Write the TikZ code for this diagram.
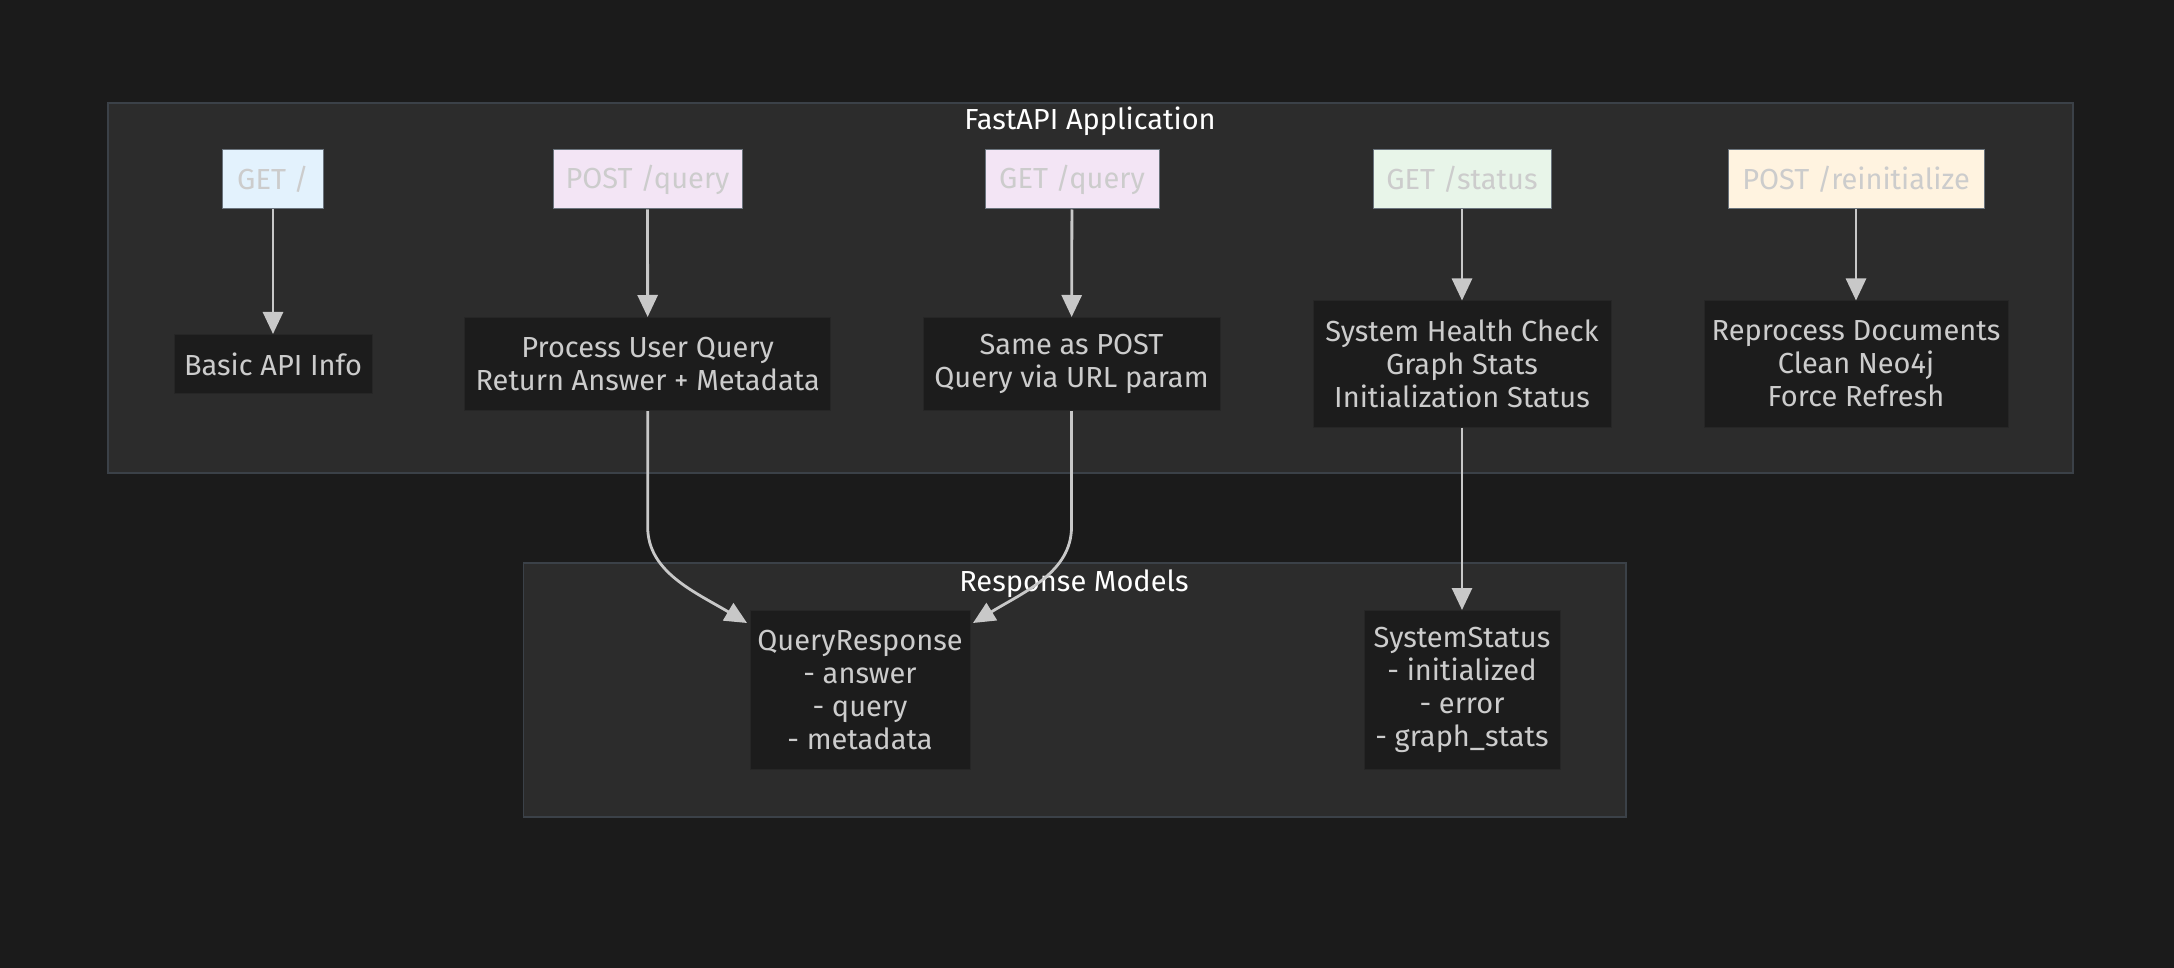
\documentclass[tikz,border=0pt]{standalone}
\usepackage{fontspec}
\setmainfont{Fira Sans}
\usetikzlibrary{arrows.meta}
\definecolor{bg}{HTML}{1B1B1B}
\definecolor{clfill}{HTML}{2C2C2C}
\definecolor{clborder}{HTML}{3B4148}
\definecolor{darkfill}{HTML}{1C1C1C}
\definecolor{darkborder}{HTML}{262626}
\definecolor{nodetext}{HTML}{CCCCCC}
\definecolor{lbborder}{HTML}{6A737C}
\definecolor{edgecol}{HTML}{C8C8C8}
\definecolor{cblue}{HTML}{E3F2FD}
\definecolor{cpurple}{HTML}{F3E5F5}
\definecolor{cgreen}{HTML}{E8F5E9}
\definecolor{corange}{HTML}{FFF3E0}
\begin{document}
\begin{tikzpicture}[x=1pt,y=-1pt,
  basefont/.style={font=\fontsize{29}{33}\selectfont},
  cluster/.style={draw=clborder, fill=clfill, line width=1.5pt},
  cltitle/.style={basefont, text=white, inner sep=0pt},
  lightbox/.style={basefont, draw=lbborder, line width=1pt, inner sep=0pt, text=nodetext, align=center, minimum height=59pt},
  darkbox/.style={basefont, fill=darkfill, draw=darkborder, line width=1pt, inner sep=0pt, text=nodetext, align=center},
  edge/.style={draw=edgecol, line width=2.8pt, -{Triangle[length=22pt,width=20pt]}}
]
\fill[bg] (0,0) rectangle (2174,968);
\useasboundingbox (0,0) rectangle (2174,968);

% clusters
\draw[cluster] (108,103) rectangle (2073,473);
\draw[cluster] (523.5,563) rectangle (1626,817);
\node[cltitle] (tapp) at (1090,121.5) {FastAPI Application};
\node[cltitle] (tresp) at (1074,583.5) {Response Models};

% top endpoint nodes
\node[lightbox, fill=cblue, minimum width=101pt] (get) at (273,179.5) {GET /};
\node[lightbox, fill=cpurple, minimum width=189pt] (postq) at (647.5,179.5) {POST /query};
\node[lightbox, fill=cpurple, minimum width=174pt] (getq) at (1072,179.5) {GET /query};
\node[lightbox, fill=cgreen, minimum width=178pt] (gets) at (1462,179.5) {GET /status};
\node[lightbox, fill=corange, minimum width=256pt] (postr) at (1856,179.5) {POST /reinitialize};

% description nodes
\node[darkbox, minimum width=198pt, minimum height=59pt] (info) at (273,364) {Basic API Info};
\node[darkbox, minimum width=366pt, minimum height=93pt] (proc) at (647.7,364) {Process User Query\\Return Answer + Metadata};
\node[darkbox, minimum width=297pt, minimum height=93pt] (same) at (1071.5,364) {Same as POST\\Query via URL param};
\node[darkbox, minimum width=298pt, minimum height=126pt] (health) at (1462,364) {System Health Check\\Graph Stats\\Initialization Status};
\node[darkbox, minimum width=304pt, minimum height=126pt] (repro) at (1856,364) {Reprocess Documents\\Clean Neo4j\\Force Refresh};

% response models
\node[darkbox, minimum width=220pt, minimum height=159pt] (qr) at (860,690) {QueryResponse\\- answer\\- query\\- metadata};
\node[darkbox, minimum width=196pt, minimum height=159pt] (ss) at (1462,690) {SystemStatus\\- initialized\\- error\\- graph\_stats};

% edges
\draw[edge] (get) -- (info);
\draw[edge] (postq) -- (proc);
\draw[edge] (getq) -- (same);
\draw[edge] (gets) -- (health);
\draw[edge] (postr) -- (repro);
\draw[edge] (health) -- (ss);

\coordinate (b1) at (647.7,527);
\coordinate (e1) at (747,623);
\coordinate (b2) at (1071.5,527);
\coordinate (e2) at (973,623);
\draw[edge] (proc.south) -- (b1) .. controls (647.7,572) and (695,592) .. (e1);
\draw[edge] (same.south) -- (b2) .. controls (1071.5,572) and (1024,592) .. (e2);
\end{tikzpicture}
\end{document}
